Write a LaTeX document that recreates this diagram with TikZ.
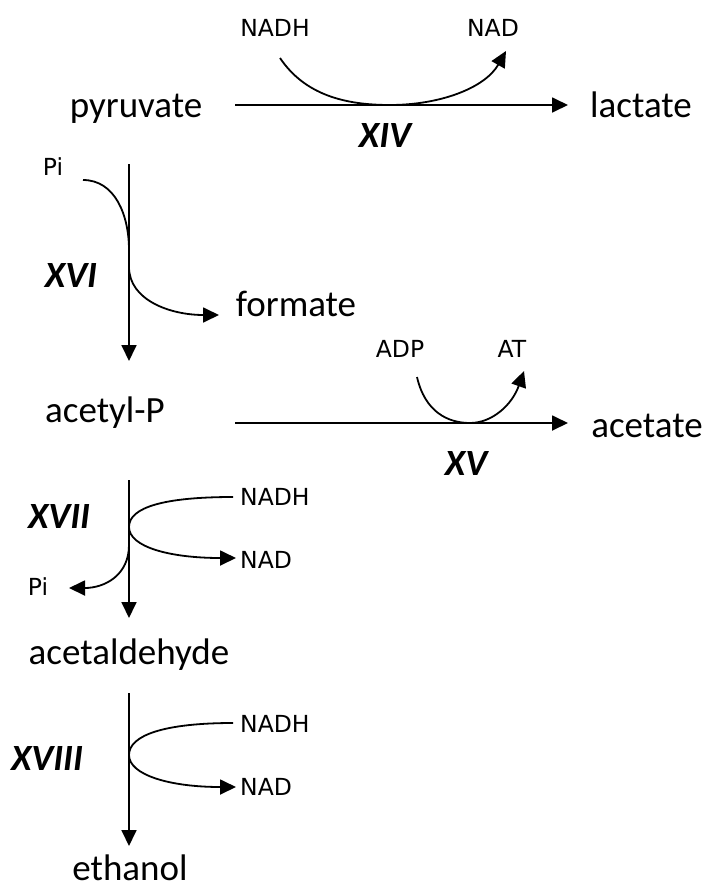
\documentclass[tikz,border=0pt]{standalone}
\usepackage{fontspec}
\setmainfont{Carlito}
\newfontfamily\lblfont{DejaVu Sans}
\usetikzlibrary{arrows.meta}
\begin{document}
\begin{tikzpicture}[x=1pt,y=-1pt,
 big/.style={font=\fontsize{37}{40}\selectfont, inner sep=0, anchor=base},
 num/.style={font=\fontsize{37}{40}\selectfont\bfseries\itshape, inner sep=0, anchor=base},
 lbl/.style={font=\lblfont\fontsize{23.5}{26}\selectfont, inner sep=0, anchor=base},
 lblw/.style={lbl, anchor=base west},
 arr/.style={line width=1.8pt, -{Triangle[length=16pt,width=15pt]}},
 ln/.style={line width=1.8pt}]
\path[use as bounding box, fill=white] (0,0) rectangle (706,892);

% metabolites
\node[big] (pyr) at (136,117) {pyruvate};
\node[big] (lac) at (641,117) {lactate};
\node[big] (form) at (296,316) {formate};
\node[big] (acp) at (105,422) {acetyl-P};
\node[big] (ace) at (647,437) {acetate};
\node[big] (ald) at (129,664) {acetaldehyde};
\node[big] (eth) at (130,880) {ethanol};

% enzyme numbers
\node[num] (n14) at (385,147) {XIV};
\node[num] (n16) at (71,287) {XVI};
\node[num] (n15) at (466,475) {XV};
\node[num] (n17) at (59,528) {XVII};
\node[num] (n18) at (47,770) {XVIII};

% cofactors
\node[lbl] (nadh1) at (275,36) {NADH};
\node[lbl] (nad1) at (493,36) {NAD};
\node[lbl] (pi1) at (53,175) {Pi};
\node[lbl] (adp) at (400,357) {ADP};
\node[lbl] (at) at (512,357) {AT};
\node[lblw] (nadh2) at (240,505) {NADH};
\node[lblw] (nad2) at (240,568) {NAD};
\node[lbl] (pi2) at (38,595) {Pi};
\node[lblw] (nadh3) at (240,732) {NADH};
\node[lblw] (nad3) at (240,795) {NAD};

% connector end points
\coordinate (h1s) at (235,105);  \coordinate (h1e) at (568,105);
\coordinate (h2s) at (235,423);  \coordinate (h2e) at (568,423);
\coordinate (v1s) at (129,164);  \coordinate (v1e) at (129,361);
\coordinate (v2s) at (129,480);  \coordinate (v2e) at (129,618);
\coordinate (v3s) at (129,693);  \coordinate (v3e) at (129,846);

\coordinate (c1s) at (280,58);   \coordinate (c1m) at (390,105); \coordinate (c1e) at (506,51);
\coordinate (c2s) at (83,180);   \coordinate (c2m) at (129,250);
\coordinate (c3s) at (129,267);  \coordinate (c3e) at (219,315);
\coordinate (c4s) at (417,377);  \coordinate (c4m) at (470,423); \coordinate (c4e) at (524,371);
\coordinate (c5s) at (233,497);  \coordinate (c5m) at (129,527); \coordinate (c5e) at (236,558);
\coordinate (c6s) at (129,545);  \coordinate (c6e) at (69,588);
\coordinate (c7s) at (233,723);  \coordinate (c7m) at (129,755); \coordinate (c7e) at (236,787);

% main arrows
\draw[arr] (h1s) -- (h1e);
\draw[arr] (h2s) -- (h2e);
\draw[arr] (v1s) -- (v1e);
\draw[arr] (v2s) -- (v2e);
\draw[arr] (v3s) -- (v3e);

% side arrows
\draw[arr] (c1s) .. controls (305,95) and (345,105) .. (c1m) .. controls (440,105) and (485,88) .. (c1e);
\draw[ln] (c2s) .. controls (115,180) and (129,215) .. (c2m);
\draw[arr] (c3s) .. controls (129,300) and (170,315) .. (c3e);
\draw[arr] (c4s) .. controls (425,412) and (448,423) .. (c4m) .. controls (492,423) and (512,405) .. (c4e);
\draw[arr] (c5s) .. controls (165,497) and (129,507) .. (c5m) .. controls (129,547) and (170,558) .. (c5e);
\draw[arr] (c6s) .. controls (129,575) and (105,588) .. (c6e);
\draw[arr] (c7s) .. controls (165,723) and (129,735) .. (c7m) .. controls (129,775) and (170,787) .. (c7e);
\end{tikzpicture}
\end{document}
